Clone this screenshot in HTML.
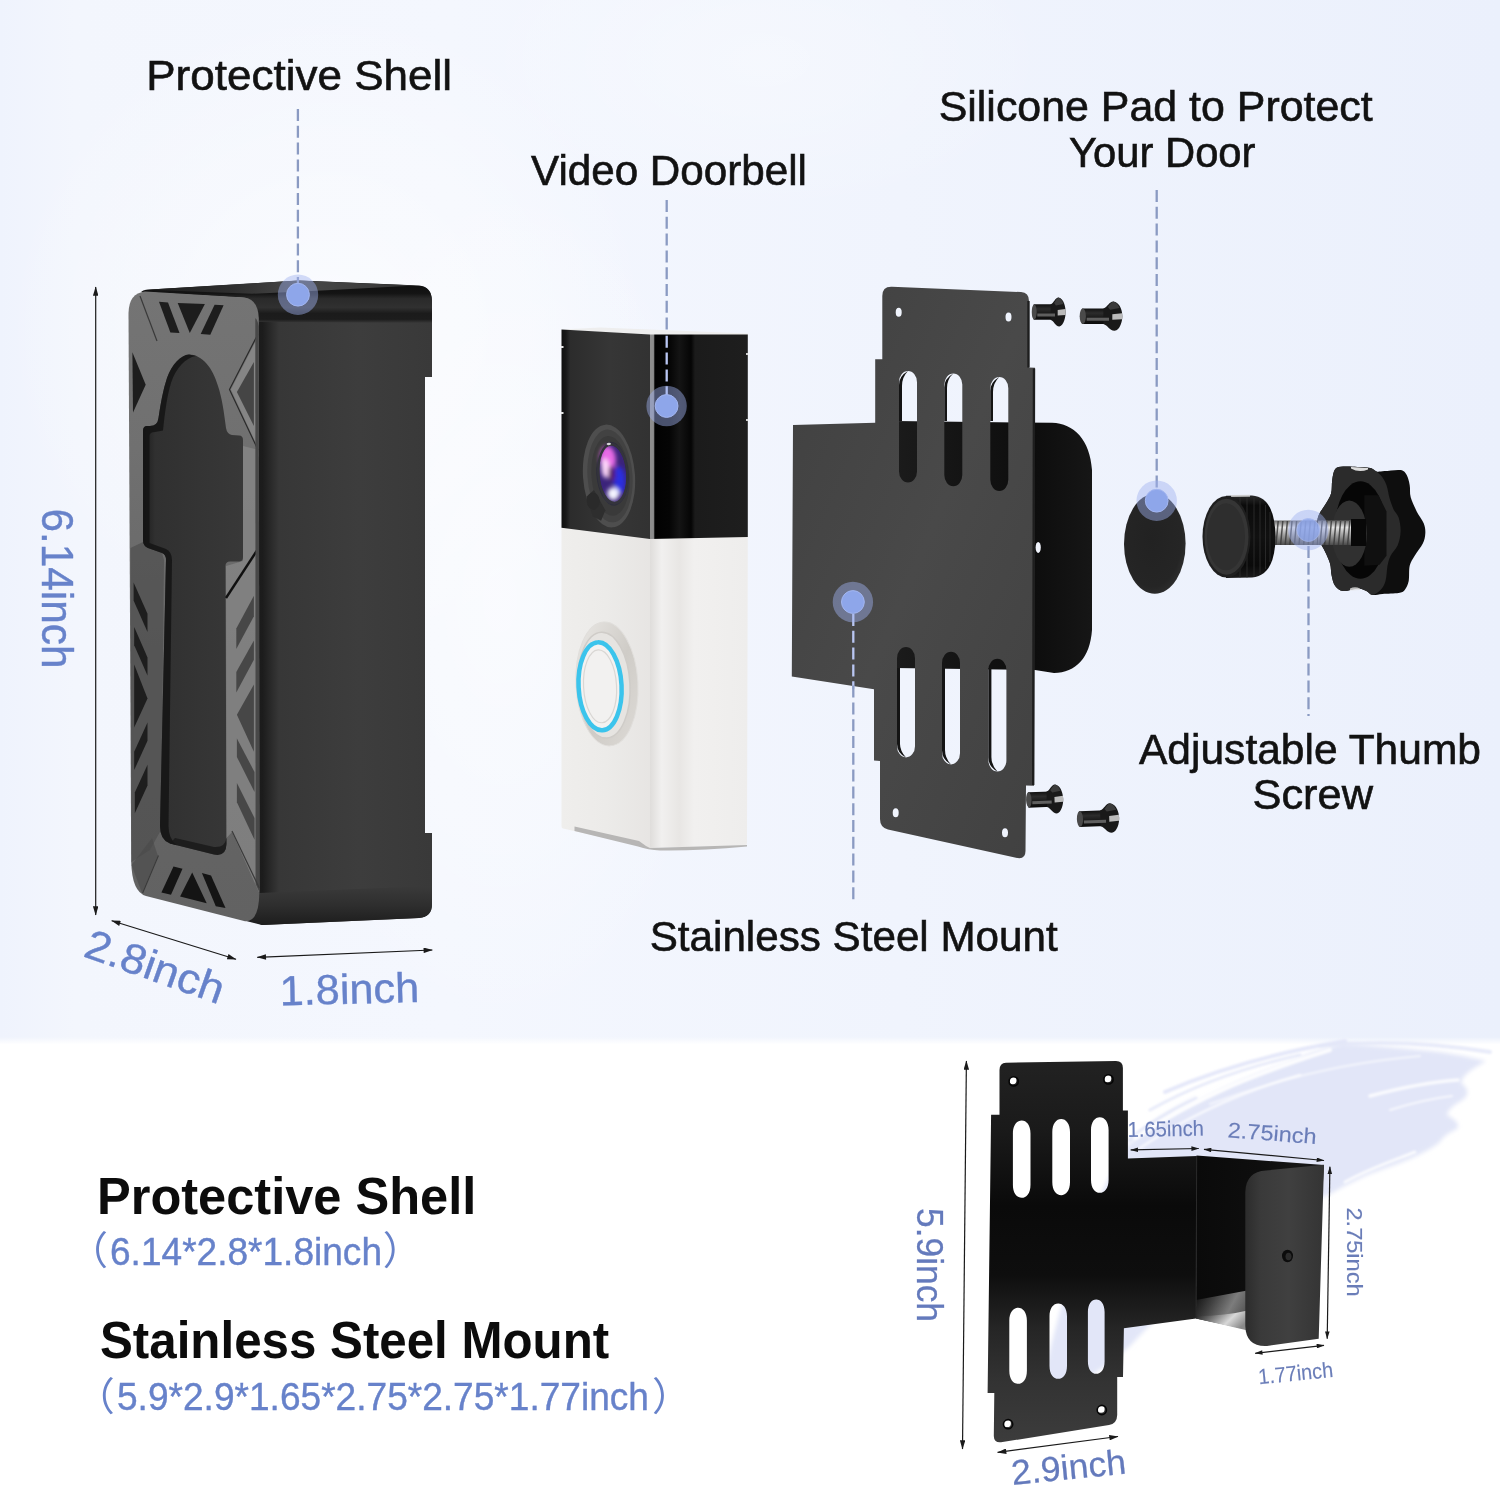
<!DOCTYPE html>
<html lang="en">
<head>
<meta charset="utf-8">
<title>Protective Shell and Stainless Steel Mount</title>
<style>
html,body{margin:0;padding:0;background:#fff;}
body{width:1500px;height:1489px;overflow:hidden;font-family:"Liberation Sans","Noto Sans CJK SC",sans-serif;}
svg{display:block;}
text{opacity:0.999;}
.lbl{font-family:"Liberation Sans",sans-serif;font-size:42px;fill:#121212;stroke:#121212;stroke-width:0.6px;}
.dim{font-family:"Liberation Sans","Noto Sans CJK SC",sans-serif;fill:#6782ca;stroke:#6782ca;stroke-width:0.4px;}
.dims{stroke-width:0.15px;fill:#6a7db8;stroke:#6a7db8;}
.dimb{stroke-width:0.25px;fill:#647abc;stroke:#647abc;}
.par{stroke-width:0;}
.hd{font-family:"Liberation Sans",sans-serif;font-size:52px;font-weight:bold;fill:#0c0c0c;}
.dash{stroke:#8a9ac2;stroke-width:2.3;stroke-dasharray:12 4.8;fill:none;}
.dl{stroke:#b9c6f2;}
.arr{stroke:#1a1a1a;stroke-width:1.2;fill:none;}
</style>
</head>
<body>
<svg width="1500" height="1489" viewBox="0 0 1500 1489">
<defs>
<linearGradient id="bgTop" x1="0" y1="0" x2="1" y2="0">
<stop offset="0" stop-color="#eff3fd"/>
<stop offset="0.05" stop-color="#f3f6fd"/>
<stop offset="0.3" stop-color="#f4f7fe"/>
<stop offset="0.6" stop-color="#f0f4fd"/>
<stop offset="1" stop-color="#ebf0fc"/>
</linearGradient>
<radialGradient id="bgGlow" cx="0.5" cy="0.5" r="0.5">
<stop offset="0" stop-color="#ffffff" stop-opacity="0.6"/>
<stop offset="1" stop-color="#ffffff" stop-opacity="0"/>
</radialGradient>
<linearGradient id="bgFade" x1="0" y1="0" x2="0" y2="1">
<stop offset="0" stop-color="#ffffff" stop-opacity="0"/>
<stop offset="1" stop-color="#ffffff" stop-opacity="1"/>
</linearGradient>
<filter id="blur6" x="-20%" y="-20%" width="140%" height="140%"><feGaussianBlur stdDeviation="6"/></filter>
<filter id="blur2" x="-20%" y="-20%" width="140%" height="140%"><feGaussianBlur stdDeviation="2"/></filter>
<filter id="blur1" x="-20%" y="-20%" width="140%" height="140%"><feGaussianBlur stdDeviation="0.8"/></filter>
<marker id="ahs" viewBox="0 0 10 6" refX="9.5" refY="3" markerWidth="9" markerHeight="4.6" orient="auto-start-reverse" markerUnits="userSpaceOnUse">
<path d="M0 0 L10 3 L0 6 Z" fill="#1a1a1a"/>
</marker>
<marker id="ah" viewBox="0 0 10 6" refX="9.5" refY="3" markerWidth="11" markerHeight="5.5" orient="auto-start-reverse" markerUnits="userSpaceOnUse">
<path d="M0 0 L10 3 L0 6 Z" fill="#1a1a1a"/>
</marker>
</defs>

<!-- ===== BACKGROUND ===== -->
<g id="background">
<rect x="0" y="0" width="1500" height="1489" fill="#ffffff"/>
<rect x="0" y="0" width="1500" height="1044" fill="url(#bgTop)"/>
<ellipse cx="330" cy="330" rx="330" ry="330" fill="url(#bgGlow)"/>
<ellipse cx="500" cy="600" rx="230" ry="440" fill="url(#bgGlow)" opacity="0.9"/>
<ellipse cx="760" cy="60" rx="300" ry="160" fill="url(#bgGlow)" opacity="0.5"/>
<rect x="0" y="1037" width="1500" height="7.5" fill="url(#bgFade)"/>
</g>

<!-- ===== BRUSH ===== -->
<g id="brush">
<g filter="url(#blur2)">
<path d="M1040 1394 C1060 1300 1090 1200 1129 1144 C1160 1120 1185 1108 1207 1097 C1235 1082 1262 1072 1285 1064 C1310 1054 1330 1047 1350 1044 C1380 1046 1400 1048 1420 1050 C1445 1052 1465 1056 1486 1061 C1470 1070 1462 1076 1461 1083 C1470 1090 1468 1094 1464 1099 C1452 1106 1448 1110 1447 1115 C1456 1120 1460 1124 1457 1129 C1446 1134 1442 1138 1440 1142 C1430 1150 1420 1154 1412 1158 C1395 1165 1380 1170 1367 1175 C1352 1182 1342 1187 1332 1193 C1250 1232 1180 1292 1130 1346 C1100 1372 1070 1392 1040 1394 Z" fill="#e2e6f8"/>
<path d="M1290 1062 C1310 1052 1335 1045 1349 1042 C1340 1050 1320 1058 1300 1066 Z" fill="#e2e6f8"/>
</g>
<g fill="none" stroke="#e2e6f8" stroke-linecap="round" filter="url(#blur1)">
<path d="M1165 1092 C1220 1068 1280 1052 1345 1041" stroke-width="4" opacity="0.9"/>
<path d="M1150 1110 C1200 1082 1250 1066 1300 1055" stroke-width="3" opacity="0.8"/>
<path d="M1320 1046 C1380 1040 1440 1044 1490 1052" stroke-width="4" opacity="0.8"/>
<path d="M1130 1140 C1150 1122 1170 1110 1195 1098" stroke-width="5" opacity="0.8"/>
</g>
<g fill="none" stroke="#ffffff" stroke-linecap="round" filter="url(#blur1)">
<path d="M1135 1138 C1200 1095 1260 1072 1330 1050" stroke-width="4" opacity="0.85"/>
<path d="M1140 1148 C1190 1115 1240 1092 1300 1075" stroke-width="2.5" opacity="0.7"/>
<path d="M1210 1104 C1280 1078 1350 1062 1420 1056" stroke-width="2" opacity="0.6"/>
<path d="M1370 1096 C1400 1088 1430 1082 1458 1080" stroke-width="3.5" opacity="0.8"/>
<path d="M1390 1110 C1415 1102 1435 1098 1452 1096" stroke-width="2" opacity="0.7"/>
<path d="M1345 1182 C1370 1168 1395 1160 1415 1152" stroke-width="3" opacity="0.8"/>
<path d="M1130 1132 C1160 1110 1185 1098 1205 1090" stroke-width="5" opacity="0.7"/>
</g>
</g>

<!-- ===== SHELL ===== -->
<g id="shell">
<defs>
<linearGradient id="shSide" x1="0" y1="0" x2="1" y2="0">
<stop offset="0" stop-color="#191919"/>
<stop offset="0.07" stop-color="#1c1c1c"/>
<stop offset="0.16" stop-color="#373737"/>
<stop offset="0.6" stop-color="#3d3d3d"/>
<stop offset="1" stop-color="#393939"/>
</linearGradient>
<linearGradient id="shTop" gradientUnits="userSpaceOnUse" x1="0" y1="286" x2="0" y2="323">
<stop offset="0" stop-color="#101010"/>
<stop offset="0.2" stop-color="#141414"/>
<stop offset="0.34" stop-color="#2a2a2a"/>
<stop offset="0.58" stop-color="#303030"/>
<stop offset="0.74" stop-color="#1b1b1b"/>
<stop offset="0.9" stop-color="#1c1c1c"/>
<stop offset="1" stop-color="#393939"/>
</linearGradient>
<linearGradient id="shTopFace" gradientUnits="userSpaceOnUse" x1="146" y1="0" x2="430" y2="0">
<stop offset="0" stop-color="#1c1c1c"/>
<stop offset="0.3" stop-color="#2e2e2e"/>
<stop offset="0.55" stop-color="#484848"/>
<stop offset="0.8" stop-color="#3c3c3c"/>
<stop offset="1" stop-color="#2a2a2a"/>
</linearGradient>
<linearGradient id="shBot" x1="0" y1="0" x2="0" y2="1">
<stop offset="0" stop-color="#3a3a3a"/>
<stop offset="0.5" stop-color="#2e2e2e"/>
<stop offset="1" stop-color="#1d1d1d"/>
</linearGradient>
<linearGradient id="shFront" x1="0" y1="0" x2="0" y2="1">
<stop offset="0" stop-color="#747474"/>
<stop offset="0.25" stop-color="#707070"/>
<stop offset="0.6" stop-color="#666666"/>
<stop offset="1" stop-color="#626262"/>
</linearGradient>
<linearGradient id="shRecess" x1="0" y1="0" x2="1" y2="0">
<stop offset="0" stop-color="#1c1c1c"/>
<stop offset="0.12" stop-color="#303030"/>
<stop offset="1" stop-color="#383838"/>
</linearGradient>
</defs>
<!-- side face -->
<path d="M250 300 L420 286 Q432 287 432 302 L432 377 L425 377 L425 833 L432 833 L432 904 Q432 917 419 918 L262 925 L250 920 Z" fill="url(#shSide)"/>
<!-- top bevel band -->
<path d="M141 292 Q143 290 146 289.8 L300 280.5 L419 285.5 Q431 286.5 432 300 L432 323 L259 322 L246 298 Z" fill="url(#shTop)"/>
<path d="M146 289.8 L297 280.6 L416 285.4 L322 290.5 L252 293.8 Z" fill="url(#shTopFace)"/>
<!-- bottom bevel band -->
<path d="M259 893 L432 886 L432 904 Q432 917 419 918 L262 925 L246 921 Z" fill="url(#shBot)"/>
<!-- front face -->
<path d="M128.5 313 Q129 293 145 291.5 L244 297.5 Q258 299 258.8 318 L259.3 893 Q259 922 245 921.2 L146 896 Q132 892 131.2 862 Z" fill="url(#shFront)"/>
<!-- left strip darker tint -->
<path d="M130.5 548 L143 542 L162 553 L164 560 L161 830 L150 850 L131.5 862 Z" fill="#4e4e4e" opacity="0.7"/>
<!-- recess -->
<path d="M189 354.5 C181 355 172 364 167 378 C163 390 160.5 404 158.5 418 Q157.5 426 150 426 L146.5 426 Q143 426.5 143 431 L143 540 Q143 546 148 548 L162 553 Q166 554.5 166 560 L160 826 Q160 840 170 843.5 L214 854.5 Q226 857 226.5 844 L225.5 566 Q225.5 561.5 230 561.5 L239 561.5 Q243 561.5 243 557 L243 440 Q243 435.5 239 435.5 L232 435 Q227 434 226 428 C224 412 222 398 218 386 C213 368 202 354.5 189 354.5 Z" fill="url(#shRecess)"/>
<path d="M189 354.5 C181 355 172 364 167 378 C163 390 160.5 404 158.5 418 Q157.5 426 150 426 L146.5 426 Q143 426.5 143 431 L143 540 Q143 546 148 548 L162 553 Q166 554.5 166 560 L160 826 Q160 840 170 843.5 L177 845.3 Q168.5 839 168.5 826 L172 560 Q172 552 166 549 L149.5 543 L149.5 436 Q149.5 432 155 432 L163 430.5 C165 412 167 396 171 383 C176 368 185 358 196 356 Z" fill="#141414" opacity="0.85"/>
<path d="M170 843.5 L214 854.5 Q226 857 226.5 844 L226.4 838 Q225 848 214 847 L175 838 Z" fill="#181818" opacity="0.8"/>
<!-- W cutouts top -->
<g fill="#1d1d1d">
<path d="M159 301.7 L168 302.4 L179.5 332.9 L170.4 332.6 Z"/>
<path d="M177.7 302.9 L204.9 304.1 L189.8 332.9 Z"/>
<path d="M214.6 304.8 L223.6 305.3 L210.3 334.7 L200.7 334.1 Z"/>
<path d="M132.4 352.2 L145.7 384.8 L133 412.6 Z"/>
</g>
<path d="M258.5 336 L231 389.5 L258.5 449 Z" fill="#858585"/>
<path d="M258 334 L229.5 389.5 L258.5 451" stroke="#2a2a2a" stroke-width="1.2" fill="none"/>
<path d="M253.9 361.9 L236.9 392.1 L253.9 426 Z" fill="#454545"/>
<path d="M140 296 L157 341" stroke="#3a3a3a" stroke-width="1.2" fill="none"/>

<path d="M226 566 L243 561 L243 446 L259 450 L259.3 893 L232 832 L226.5 838 Z" fill="#8a8a8a" opacity="0.7"/>
<!-- left chevrons -->
<g fill="#1e1e1e">
<path d="M133.6 582.4 L147.5 613.8 L147.5 632 L133.6 600.6 Z"/>
<path d="M134.2 627.1 L147.5 657.4 L147.5 675.5 L134.2 645.3 Z"/>
<path d="M134.2 664.6 L147.5 698.5 L134.2 727.5 Z"/>
<path d="M147.5 722.6 L134.2 751.7 L134.2 770 L147.5 740.8 Z"/>
<path d="M147.5 764.8 L134.8 792.6 L134.8 813.2 L147.5 785.4 Z"/>
</g>
<!-- right chevrons -->
<g fill="#474747">
<path d="M253.9 595.7 L236.3 628.4 L236.3 648.9 L253.9 616.3 Z"/>
<path d="M253.9 640.4 L236.3 671.9 L236.3 692.4 L253.9 659.8 Z"/>
<path d="M253.9 684.6 L236.9 714.8 L253.9 751.7 Z"/>
<path d="M236.9 738.4 L254.5 772 L254.5 792 L236.9 757 Z"/>
<path d="M236.9 783 L254.5 818 L254.5 839.8 L236.9 802.3 Z"/>
</g>
<path d="M226 598 L258 549" stroke="#101010" stroke-width="2.4" fill="none"/>
<path d="M255.3 318 Q257.5 320 258.8 326 L259.3 892 L255.6 884 Z" fill="#484848"/>
<!-- M cutouts bottom -->
<g fill="#141414">
<path d="M173.5 866.4 L182.5 868.8 L171 894.8 L161.4 892.4 Z"/>
<path d="M192.2 872.4 L206.7 903.3 L180.1 896.6 Z"/>
<path d="M201.9 873 L211 875.4 L225.5 908.1 L215.8 906.3 Z"/>
</g>
<path d="M158.4 855.5 L142.6 893" stroke="#3a3a3a" stroke-width="1.2" fill="none"/>
<path d="M232 831 L259.3 888" stroke="#3a3a3a" stroke-width="1.2" fill="none"/>
<path d="M131.5 865 L142 893 L158 856 L152 838 Z" fill="#4a4a4a" opacity="0.6"/>
</g>


<!-- ===== DOORBELL ===== -->
<g id="doorbell">
<defs>
<linearGradient id="dbFront" x1="0" y1="0" x2="1" y2="0">
<stop offset="0" stop-color="#101010"/>
<stop offset="0.05" stop-color="#181818"/>
<stop offset="0.1" stop-color="#2c2c2c"/>
<stop offset="0.55" stop-color="#363636"/>
<stop offset="1" stop-color="#323232"/>
</linearGradient>
<linearGradient id="dbSide" x1="0" y1="0" x2="1" y2="0">
<stop offset="0" stop-color="#8d8d8d"/>
<stop offset="0.035" stop-color="#8d8d8d"/>
<stop offset="0.05" stop-color="#020202"/>
<stop offset="0.2" stop-color="#050505"/>
<stop offset="0.3" stop-color="#141414"/>
<stop offset="0.42" stop-color="#050505"/>
<stop offset="0.46" stop-color="#1b1b1b"/>
<stop offset="1" stop-color="#1e1e1e"/>
</linearGradient>
<linearGradient id="dbWFront" x1="0" y1="0" x2="1" y2="0">
<stop offset="0" stop-color="#efeeec"/>
<stop offset="0.5" stop-color="#ecebe9"/>
<stop offset="1" stop-color="#e7e5e3"/>
</linearGradient>
<linearGradient id="dbWSide" x1="0" y1="0" x2="1" y2="0">
<stop offset="0" stop-color="#dfdddb"/>
<stop offset="0.12" stop-color="#f1f0ef"/>
<stop offset="0.3" stop-color="#e8e6e4"/>
<stop offset="0.45" stop-color="#f1f0ef"/>
<stop offset="1" stop-color="#eeedec"/>
</linearGradient>
<linearGradient id="dbLens" x1="0.3" y1="0" x2="0.7" y2="1">
<stop offset="0" stop-color="#7a2c86"/>
<stop offset="0.25" stop-color="#d45fd8"/>
<stop offset="0.5" stop-color="#5a2a90"/>
<stop offset="0.72" stop-color="#2b35d8"/>
<stop offset="0.88" stop-color="#c9d0ff"/>
<stop offset="1" stop-color="#2a2a60"/>
</linearGradient>
<linearGradient id="dbRing" x1="0" y1="0" x2="1" y2="1">
<stop offset="0" stop-color="#ebe9e6"/>
<stop offset="0.55" stop-color="#cfccc7"/>
<stop offset="1" stop-color="#dedbd7"/>
</linearGradient>
</defs>
<!-- white body -->
<path d="M561.5 527 L650 538 L650 848 L563 828.5 Q561.5 828 561.5 826 Z" fill="url(#dbWFront)"/>
<path d="M650 538 L747.8 536.5 L747 843 Q747 845.5 744 845.5 L650 848 Z" fill="url(#dbWSide)"/>
<!-- base -->
<path d="M574.5 826.5 L639 841 L646 846 L650 848 L747 845 L747 846.5 Q700 851 660 850.5 Q648 850 638 846.5 L574.5 831 Z" fill="#b7b6b5"/>
<!-- top light strip -->
<path d="M561.5 329.4 L600 327.5 L748 333.6 L747.8 335 L650 335 Z" fill="#eeeeee"/>
<!-- black top -->
<path d="M561.5 329.4 L650 334.4 L650 539 L561.5 527.8 Z" fill="url(#dbFront)"/>
<path d="M650 334.4 L747.8 334.4 L747.8 537 L650 539 Z" fill="url(#dbSide)"/>
<rect x="561" y="346" width="2.5" height="2" fill="#e8e8e8"/>
<rect x="561" y="412" width="2.5" height="2" fill="#e8e8e8"/>
<rect x="746" y="353" width="2" height="2" fill="#d0d0d0"/>
<rect x="746" y="419" width="2" height="2" fill="#d0d0d0"/>
<!-- lens -->
<g transform="rotate(-4 609 476)">
<ellipse cx="609" cy="476" rx="26" ry="51.5" fill="#4e4e4e"/>
<ellipse cx="610" cy="476" rx="22.5" ry="46.5" fill="#424242"/>
<ellipse cx="610.5" cy="476" rx="19" ry="40" fill="#3a3a3a"/>
<path d="M585 495 L593 489 L603 510 L598 520 L590 515 Z" fill="#2e2e2e"/>
<ellipse cx="591.5" cy="500" rx="6.5" ry="8.5" fill="#2a2a2a"/>
<ellipse cx="612.5" cy="474" rx="16" ry="32" fill="#2d2d3a"/>
<ellipse cx="613" cy="474" rx="13.5" ry="28" fill="#3b237a"/>
<g filter="url(#blur2)">
<ellipse cx="609" cy="459" rx="8" ry="13" fill="#e86be6"/>
<ellipse cx="606" cy="468" rx="4" ry="10" fill="#ffd9fb"/>
<ellipse cx="619" cy="481" rx="6" ry="14" fill="#2a2fe0"/>
<ellipse cx="612" cy="474" rx="3.5" ry="8" fill="#5a1f6a"/>
<ellipse cx="612" cy="494" rx="6" ry="6.5" fill="#f4f4ff"/>
</g>
<ellipse cx="613" cy="474" rx="14.5" ry="29.5" fill="none" stroke="#34343c" stroke-width="2.5"/>
<ellipse cx="611" cy="444" rx="2.2" ry="1.2" fill="#e8e8e8" opacity="0.9"/>
</g>
<!-- button -->
<g transform="rotate(-3 606 685)">
<ellipse cx="607" cy="684" rx="31" ry="62" fill="url(#dbRing)" stroke="#e0dedb" stroke-width="1"/>
<ellipse cx="604" cy="685" rx="26" ry="53" fill="#e6e4e1" stroke="#cfccc8" stroke-width="1.5"/>
<ellipse cx="600" cy="686" rx="21.5" ry="44" fill="#f3f2f1" stroke="#3bc4ec" stroke-width="4.5"/>
<ellipse cx="600" cy="686" rx="16.5" ry="36.5" fill="#f2f1f0" stroke="#d9d7d4" stroke-width="1.2"/>
</g>
</g>


<!-- ===== MOUNT ===== -->
<g id="mount">
<defs>
<linearGradient id="mtFace" x1="0" y1="0" x2="1" y2="1">
<stop offset="0" stop-color="#404040"/>
<stop offset="0.5" stop-color="#494949"/>
<stop offset="1" stop-color="#414141"/>
</linearGradient>
<linearGradient id="mtBack" x1="0" y1="0" x2="1" y2="0">
<stop offset="0" stop-color="#1b1b1b"/>
<stop offset="0.7" stop-color="#0d0d0d"/>
<stop offset="1" stop-color="#161616"/>
</linearGradient>
<linearGradient id="scrBody" x1="0" y1="0" x2="0" y2="1">
<stop offset="0" stop-color="#111111"/>
<stop offset="0.3" stop-color="#2c2c2c"/>
<stop offset="0.6" stop-color="#1a1a1a"/>
<stop offset="1" stop-color="#0c0c0c"/>
</linearGradient>
<g id="screwA">
<path d="M2 -7.7 L26 -7.7 L26 7.7 L2 7.7 Q-1.5 0 2 -7.7 Z" fill="url(#scrBody)"/>
<ellipse cx="2.5" cy="0" rx="2.8" ry="7.6" fill="#4a4a4a"/>
<path d="M21 -7.7 C25 -9 26 -14.5 30 -14.5 C36.5 -13.5 38 -4 38 0 C38 5 36 13.5 31 14.5 C26 14 25 9 21 7.7 Z" fill="#191919"/>
<path d="M29 -2 L37.8 -3 C38 0 38 1 37.8 3 L29 3.5 Z" fill="#d8d8d8" opacity="0.85"/>
<path d="M25 -9 C27 -12 28.5 -14 30 -14.5 C32 -14 34 -12 35.5 -8 L27 -6.5 Z" fill="#3f3f3f" opacity="0.9"/>
<path d="M6 1.5 L26 1.5 L26 4.5 L6 4.5 Z" fill="#9a9a9a" opacity="0.55"/>
</g>
</defs>
<!-- back plate -->
<path d="M895 421 L1052 422.8 C1074 423.5 1090 440 1092 470 L1092 630 C1090 658 1076 672.5 1054 673 L1035 670 L895 668 Z" fill="url(#mtBack)"/>
<ellipse cx="1038.2" cy="547.4" rx="2.6" ry="5.5" fill="#f1f4fc"/>
<!-- front plate with slots -->
<path fill-rule="evenodd" fill="url(#mtFace)" d="M882.3 296 Q882.3 286.3 892 286.8 L1021 292 Q1029 292.5 1029 301 L1029 367.6 L1035 367.8 L1034 785.7 L1026 785.5 L1025.5 851 Q1025.5 860 1016 857.8 L888 829.5 Q880 827.5 880 819 L880 761 L874 760.5 L874 689.3 L791.8 676.4 L793 425 L875.2 422.8 L875.2 359.3 L882.3 359.3 Z
M899 382.2 A9 11.2 0 0 1 917 382.2 L917 471.4 A9 11.2 0 0 1 899 471.4 Z
M944.3 384.6 A9 11.2 0 0 1 962.3 384.6 L962.3 475.1 A9 11.2 0 0 1 944.3 475.1 Z
M990.3 388.2 A9 11.2 0 0 1 1008.3 388.2 L1008.3 479.8 A9 11.2 0 0 1 990.3 479.8 Z
M897 658.2 A9 11.2 0 0 1 915 658.2 L915 746.2 A9 11.2 0 0 1 897 746.2 Z
M942 663 A9 11.2 0 0 1 960 663 L960 753.2 A9 11.2 0 0 1 942 753.2 Z
M988.4 670 A9 11.2 0 0 1 1006.4 670 L1006.4 760.4 A9 11.2 0 0 1 988.4 760.4 Z
M898.7 312.3 m-3 0 a3 4.5 0 1 0 6 0 a3 4.5 0 1 0 -6 0 Z
M1008.5 317 m-3 0 a3 4.5 0 1 0 6 0 a3 4.5 0 1 0 -6 0 Z
M895.7 812.7 m-3 0 a3 4.5 0 1 0 6 0 a3 4.5 0 1 0 -6 0 Z
M1005 832.7 m-3 0 a3 4.5 0 1 0 6 0 a3 4.5 0 1 0 -6 0 Z"/>
<!-- slot inner walls -->
<g fill="#141414">
<path d="M899 385 Q899 376 908 371 Q902 377 902 386 L902 421 L899 421 Z"/>
<path d="M944.3 387.4 Q944.3 378.4 953.3 373.4 Q947 379 947 388 L947 421 L944.3 421 Z"/>
<path d="M990.3 391 Q990.3 382 999.3 377 Q993 383 993 392 L993 421 L990.3 421 Z"/>
<path d="M897 668 L900 668 L900 744 Q900 751 906 757.5 Q897 753 897 744 Z"/>
<path d="M942 668 L945 668 L945 750 Q945 758 951 764.5 Q942 759.5 942 750.5 Z"/>
<path d="M988.4 668 L991.4 668 L991.4 757 Q991.4 765 997.4 771.6 Q988.4 766.6 988.4 757.6 Z"/>
</g>
<!-- right edge highlight of plate -->
<path d="M1028.5 301 L1028.5 367.6 M1034 368.5 L1033.2 785" stroke="#1e1e1e" stroke-width="2.4" fill="none"/>
<!-- screws -->
<use href="#screwA" transform="translate(1032 312) scale(0.885 1)"/>
<use href="#screwA" transform="translate(1080 316.2) scale(1.115 1.01)"/>
<use href="#screwA" transform="translate(1026.4 800) rotate(-2) scale(0.97 1)"/>
<use href="#screwA" transform="translate(1077.2 819.2) rotate(-2) scale(1.105 1.02)"/>
</g>


<!-- ===== PAD + THUMB SCREW ===== -->
<g id="thumb">
<defs>
<linearGradient id="thr" x1="0" y1="0" x2="0" y2="1">
<stop offset="0" stop-color="#6a6a6a"/>
<stop offset="0.28" stop-color="#e4e4e4"/>
<stop offset="0.55" stop-color="#a8a8a8"/>
<stop offset="1" stop-color="#4a4a4a"/>
</linearGradient>
<radialGradient id="padG" cx="0.45" cy="0.45" r="0.6">
<stop offset="0" stop-color="#222222"/>
<stop offset="0.8" stop-color="#252525"/>
<stop offset="1" stop-color="#2f2f2f"/>
</radialGradient>
<linearGradient id="knobSide" x1="0" y1="0" x2="0" y2="1">
<stop offset="0" stop-color="#2a2a2a"/>
<stop offset="0.12" stop-color="#0b0b0b"/>
<stop offset="0.5" stop-color="#111111"/>
<stop offset="0.85" stop-color="#0a0a0a"/>
<stop offset="1" stop-color="#1c1c1c"/>
</linearGradient>
</defs>
<!-- silicone pad -->
<ellipse cx="1154.8" cy="543.8" rx="30.8" ry="50" fill="url(#padG)"/>
<!-- thread -->
<rect x="1270" y="520.5" width="84" height="24.5" fill="url(#thr)"/>
<g fill="none" stroke="#3a3a3a" stroke-width="1.5" opacity="0.85"><path d="M1278.2 521 L1276 545"/><path d="M1282.8 521 L1280.6 545"/><path d="M1287.4 521 L1285.2 545"/><path d="M1292 521 L1289.8 545"/><path d="M1296.6 521 L1294.4 545"/><path d="M1301.2 521 L1299 545"/><path d="M1305.8 521 L1303.6 545"/><path d="M1310.4 521 L1308.2 545"/><path d="M1315 521 L1312.8 545"/><path d="M1319.6 521 L1317.4 545"/><path d="M1324.2 521 L1322 545"/><path d="M1328.8 521 L1326.6 545"/><path d="M1333.4 521 L1331.2 545"/><path d="M1338 521 L1335.8 545"/><path d="M1342.6 521 L1340.4 545"/><path d="M1347.2 521 L1345 545"/><path d="M1351.8 521 L1349.6 545"/></g>
<!-- round knob -->
<path d="M1226 495.8 L1252 495.5 Q1275 497 1275.5 537 Q1275 576 1252 577.5 L1226 578 Z" fill="url(#knobSide)"/>
<g fill="none" stroke="#2c2c2c" stroke-width="1" opacity="0.9">
<path d="M1240 496.5 L1240 577.5"/><path d="M1247 496.5 L1247 577.5"/><path d="M1254 497.5 L1254 576.5"/><path d="M1260 500.5 L1260 573.5"/><path d="M1265.5 505 L1265.5 569"/><path d="M1270 512 L1270 562"/>
</g>
<path d="M1231 495 L1250 494.8 L1250 496.8 L1231 497 Z" fill="#d5d5d5" opacity="0.85"/>
<ellipse cx="1226.5" cy="536.7" rx="24" ry="40.8" fill="#1f1f1f"/>
<ellipse cx="1226.5" cy="536.7" rx="22" ry="38" fill="#353535"/>
<ellipse cx="1226" cy="536.7" rx="19" ry="33.5" fill="#2e2e2e"/>
<!-- star knob -->
<path d="M1335.2 469.1 C1337 466.8 1339.5 467 1343.2 466.6 C1346.9 466.2 1352.8 466.6 1357.3 466.9 C1361.9 467.1 1367.2 467.3 1370.4 468.1 C1373.6 468.9 1374.1 471.1 1376.5 471.6 C1378.8 472.1 1380.5 471.4 1384.5 471.1 C1388.5 470.9 1396.9 469.4 1400.6 470.1 C1404.3 470.8 1405.2 472.6 1406.7 475.1 C1408.2 477.7 1409 481.5 1409.7 485.2 C1410.4 488.9 1409.5 492.9 1410.7 497.3 C1411.9 501.7 1414.6 507 1416.7 511.4 C1418.9 515.8 1422.4 519.8 1423.8 523.5 C1425.2 527.2 1425.5 530.2 1425.3 533.5 C1425.1 536.9 1424.6 539.9 1422.8 543.6 C1421 547.3 1416.9 552 1414.7 555.7 C1412.6 559.4 1410.7 561.6 1409.7 565.8 C1408.7 570 1409.5 576.9 1408.7 580.9 C1407.9 584.9 1406.3 587.9 1404.7 589.9 C1403 592 1402.3 592.3 1398.6 593 C1394.9 593.6 1386.9 593.6 1382.5 594 C1378.1 594.3 1375.1 595.5 1372.4 595 C1369.8 594.5 1368.7 592 1366.4 591 C1364 589.9 1362.2 588.4 1358.3 588.4 C1354.5 588.4 1347.1 591.4 1343.2 591 C1339.4 590.5 1337.1 588.4 1335.2 585.9 C1333.2 583.4 1332.5 579.5 1331.7 575.8 C1330.8 572.2 1331.2 567.8 1330.1 563.8 C1329.1 559.7 1326.8 555.4 1325.1 551.7 C1323.4 548 1321.3 546 1320.1 541.6 C1318.8 537.2 1317.8 529.9 1317.6 525.5 C1317.3 521.1 1317.1 519.1 1318.6 515.4 C1320 511.7 1324 507 1326.1 503.3 C1328.2 499.6 1330.1 497.1 1331.1 493.3 C1332.2 489.4 1331.5 484.2 1332.2 480.2 C1332.8 476.1 1333.3 471.4 1335.2 469.1 Z" fill="#0e0e0e"/>
<path d="M1335.2 469.1 C1337 466.8 1339.5 467 1343.2 466.6 C1346.9 466.2 1352.8 466.6 1357.3 466.9 C1361.9 467.1 1366.6 466.7 1370.4 468.1 C1374.3 469.5 1377.8 472.3 1380.5 475.1 C1383.2 478 1385 481.4 1386.5 485.2 C1388 489.1 1388.4 494.3 1389.6 498.3 C1390.7 502.3 1392.1 506.2 1393.6 509.4 C1395.1 512.6 1397.4 513.7 1398.6 517.4 C1399.8 521.1 1400.8 526.8 1400.6 531.5 C1400.5 536.2 1399.3 541.6 1397.6 545.6 C1395.9 549.7 1392.2 552.3 1390.6 555.7 C1388.9 559.1 1388.4 561.6 1387.5 565.8 C1386.7 570 1386.7 576.9 1385.5 580.9 C1384.4 584.9 1382.7 587.6 1380.5 589.9 C1378.3 592.3 1374.8 594.8 1372.4 595 C1370.1 595.1 1368.7 592 1366.4 591 C1364 589.9 1362.2 588.4 1358.3 588.4 C1354.5 588.4 1347.1 591.4 1343.2 591 C1339.4 590.5 1337.1 588.4 1335.2 585.9 C1333.2 583.4 1332.5 579.5 1331.7 575.8 C1330.8 572.2 1331.2 567.8 1330.1 563.8 C1329.1 559.7 1326.8 555.4 1325.1 551.7 C1323.4 548 1321.3 546 1320.1 541.6 C1318.8 537.2 1317.8 529.9 1317.6 525.5 C1317.3 521.1 1317.1 519.1 1318.6 515.4 C1320 511.7 1324 507 1326.1 503.3 C1328.2 499.6 1330.1 497.1 1331.1 493.3 C1332.2 489.4 1331.5 484.2 1332.2 480.2 C1332.8 476.1 1333.3 471.4 1335.2 469.1 Z" fill="#2b2b2b"/>
<path d="M1351 468.5 Q1359 473 1368 469.5 L1368 468 L1351 467 Z" fill="#f0f0f0" opacity="0.9"/>
<path d="M1350 588.5 Q1355 586 1360 588.5 L1360 590 L1350 590.5 Z" fill="#e0e0e0" opacity="0.8"/>
<ellipse cx="1360.4" cy="530" rx="25.7" ry="48.8" fill="#060606"/>
<path d="M1364.4 495.3 L1378.5 495.3 L1386.5 511.4 L1386.5 555.7 L1379.5 564.8 L1364.4 565.8 Z" fill="#101010"/>
<ellipse cx="1349.3" cy="533.6" rx="17.6" ry="33.2" fill="#303030"/>
<rect x="1318" y="520.5" width="35" height="24.5" fill="url(#thr)"/>
<g fill="none" stroke="#3a3a3a" stroke-width="1.5" opacity="0.85"><path d="M1322.2 521 L1320 545"/><path d="M1326.8 521 L1324.6 545"/><path d="M1331.4 521 L1329.2 545"/><path d="M1336 521 L1333.8 545"/><path d="M1340.6 521 L1338.4 545"/><path d="M1345.2 521 L1343 545"/><path d="M1349.8 521 L1347.6 545"/></g>
<path d="M1351 519 L1366 519 L1366 546 L1351 546 Z" fill="#080808"/>
</g>

<!-- ===== MOUNT 2 (bottom) ===== -->
<g id="mount2">
<defs>
<linearGradient id="m2Face" x1="0" y1="0" x2="0" y2="1">
<stop offset="0" stop-color="#222222"/>
<stop offset="0.18" stop-color="#1a1a1a"/>
<stop offset="0.38" stop-color="#0a0a0a"/>
<stop offset="0.56" stop-color="#0e0e0e"/>
<stop offset="0.7" stop-color="#252525"/>
<stop offset="0.84" stop-color="#333333"/>
<stop offset="1" stop-color="#3c3c3c"/>
</linearGradient>
<linearGradient id="m2Back" x1="0" y1="0" x2="1" y2="0">
<stop offset="0" stop-color="#0a0a0a"/>
<stop offset="0.5" stop-color="#0e0e0e"/>
<stop offset="1" stop-color="#1a1a1a"/>
</linearGradient>
<linearGradient id="m2Floor" x1="0" y1="0" x2="1" y2="0.4">
<stop offset="0" stop-color="#0c0c0c"/>
<stop offset="0.35" stop-color="#6a6a6a"/>
<stop offset="0.7" stop-color="#d8d8d8"/>
<stop offset="1" stop-color="#8a8a8a"/>
</linearGradient>
<linearGradient id="m2End" x1="0" y1="0" x2="1" y2="0">
<stop offset="0" stop-color="#2c2c2c"/>
<stop offset="0.2" stop-color="#3a3a3a"/>
<stop offset="0.55" stop-color="#404040"/>
<stop offset="1" stop-color="#343434"/>
</linearGradient>
</defs>
<!-- back wall -->
<path d="M1196.5 1155.5 L1324 1165 L1322 1200 L1250 1330 L1196 1318.6 Z" fill="url(#m2Back)"/>
<path d="M1196 1300 L1250 1290 L1250 1330 L1196 1318.6 Z" fill="url(#m2Floor)" opacity="0.55"/>
<path d="M1196 1318.6 L1250 1331 L1250 1310 Q1225 1316 1196 1316 Z" fill="url(#m2Floor)"/>
<!-- end plate -->
<path d="M1245.3 1192 Q1246 1171.5 1266 1170.5 L1324 1164.8 L1318.7 1338.7 L1267 1346 Q1246 1347 1245.3 1326 Z" fill="url(#m2End)"/>
<ellipse cx="1287.5" cy="1256" rx="5.5" ry="6.2" fill="#0c0c0c"/>
<ellipse cx="1288.5" cy="1256.5" rx="3" ry="3.8" fill="#2c2c2c"/>
<!-- plate + arm -->
<path fill-rule="evenodd" fill="url(#m2Face)" d="M999.5 1070 Q999.5 1063 1006 1062.7 L1116 1061 Q1122.9 1061 1122.9 1068 L1122.9 1110.5 L1127.9 1110.5 L1127.9 1158.4 L1197 1155.9 L1196 1318.6 L1123.9 1328.2 L1123 1377 L1117.2 1377 L1117.2 1415 Q1117 1423.8 1109 1425 L1001 1442.3 Q994 1443 993.8 1436 L994.3 1393 L987.6 1393 L991.1 1114.7 L999.5 1114.7 Z M1012.9 1133.7 C1012.9 1125.2 1016.9 1120.6 1021.7 1120.6 C1026.5 1120.6 1030.5 1125.2 1030.5 1133.7 L1030.5 1184.7 C1030.5 1193.2 1026.5 1197.8 1021.7 1197.8 C1016.9 1197.8 1012.9 1193.2 1012.9 1184.7 Z M1052.3 1132.1 C1052.3 1123.5 1056.3 1118.9 1061.2 1118.9 C1066 1118.9 1070 1123.5 1070 1132.1 L1070 1182.1 C1070 1190.7 1066 1195.3 1061.2 1195.3 C1056.3 1195.3 1052.3 1190.7 1052.3 1182.1 Z M1091 1130.3 C1091 1121.8 1095 1117.2 1099.8 1117.2 C1104.6 1117.2 1108.6 1121.8 1108.6 1130.3 L1108.6 1179.7 C1108.6 1188.2 1104.6 1192.8 1099.8 1192.8 C1095 1192.8 1091 1188.2 1091 1179.7 Z M1009.3 1320.8 C1009.3 1312.3 1013.3 1307.7 1018.1 1307.7 C1022.9 1307.7 1026.9 1312.3 1026.9 1320.8 L1026.9 1370.7 C1026.9 1379.2 1022.9 1383.8 1018.1 1383.8 C1013.3 1383.8 1009.3 1379.2 1009.3 1370.7 Z M1049.5 1316.6 C1049.5 1308 1053.4 1303.5 1058.2 1303.5 C1063.1 1303.5 1067 1308 1067 1316.6 L1067 1365.7 C1067 1374.3 1063.1 1378.8 1058.2 1378.8 C1053.4 1378.8 1049.5 1374.3 1049.5 1365.7 Z M1087.9 1312 C1087.9 1303.7 1091.7 1299.4 1096.2 1299.4 C1100.8 1299.4 1104.6 1303.7 1104.6 1312 L1104.6 1361.2 C1104.6 1369.5 1100.8 1373.8 1096.2 1373.8 C1091.7 1373.8 1087.9 1369.5 1087.9 1361.2 Z M1009.3 1080.6 a3.6 3.6 0 1 0 7.2 0 a3.6 3.6 0 1 0 -7.2 0 Z M1104.1 1078.6 a3.6 3.6 0 1 0 7.2 0 a3.6 3.6 0 1 0 -7.2 0 Z M1003.7 1423.4 a3.6 3.6 0 1 0 7.2 0 a3.6 3.6 0 1 0 -7.2 0 Z M1097.4 1409.2 a3.6 3.6 0 1 0 7.2 0 a3.6 3.6 0 1 0 -7.2 0 Z"/>
<path d="M1196.7 1156 L1196 1318" stroke="#2a2a2a" stroke-width="1" fill="none"/>
<g fill="none" stroke="#050505" stroke-width="1.6">
<circle cx="1013.7" cy="1081.4" r="4.6"/><circle cx="1108.5" cy="1079.4" r="4.6"/><circle cx="1008.1" cy="1424.2" r="4.6"/><circle cx="1101.8" cy="1410" r="4.6"/>
</g>
</g>

<!-- ===== CALLOUTS ===== -->
<g id="callouts">
<path class="dash" d="M297.9 109 L297.9 283"/>
<path class="dash" d="M666.7 200 L666.7 333"/>
<path class="dash dl" d="M666.7 335.8 L666.7 400"/>
<path class="dash" d="M1156.7 190 L1156.7 490"/>
<path class="dash dl" d="M853.3 614 L853.3 689"/>
<path class="dash" d="M853.3 685.6 L853.3 903"/>
<path class="dash" d="M1308.5 546 L1308.5 716"/>
<circle cx="298" cy="294.7" r="20.2" fill="#9fb2f0" opacity="0.45"/>
<circle cx="298" cy="294.7" r="11.4" fill="#8ea6ea" stroke="#a3b6f0" stroke-width="1" opacity="1"/>
<circle cx="666.6" cy="406" r="20.2" fill="#9fb2f0" opacity="0.45"/>
<circle cx="666.6" cy="406" r="11.4" fill="#8ea6ea" stroke="#a3b6f0" stroke-width="1" opacity="1"/>
<circle cx="852.9" cy="602" r="20.2" fill="#9fb2f0" opacity="0.45"/>
<circle cx="852.9" cy="602" r="11.4" fill="#8ea6ea" stroke="#a3b6f0" stroke-width="1" opacity="1"/>
<circle cx="1156.7" cy="500.7" r="20.2" fill="#9fb2f0" opacity="0.45"/>
<circle cx="1156.7" cy="500.7" r="11.4" fill="#8ea6ea" stroke="#a3b6f0" stroke-width="1" opacity="1"/>
<circle cx="1308.3" cy="530" r="20.2" fill="#9fb2f0" opacity="0.45"/>
<circle cx="1308.3" cy="530" r="11.4" fill="#8ea6ea" stroke="#a3b6f0" stroke-width="1" opacity="0.8"/>
<path class="arr" marker-start="url(#ah)" marker-end="url(#ah)" d="M95.7 287 L95.7 915"/>
<path class="arr" marker-start="url(#ah)" marker-end="url(#ah)" d="M111.7 920.7 L236 959.3"/>
<path class="arr" marker-start="url(#ah)" marker-end="url(#ah)" d="M257.3 957.3 L432.3 950"/>
<path class="arr" marker-start="url(#ah)" marker-end="url(#ah)" d="M966.4 1061 L962.5 1449"/>
<path class="arr" marker-start="url(#ah)" marker-end="url(#ah)" d="M997.6 1452.4 L1118 1436.5"/>
<path class="arr" marker-start="url(#ahs)" marker-end="url(#ahs)" d="M1130.7 1149.9 L1198.7 1148.5"/>
<path class="arr" marker-start="url(#ahs)" marker-end="url(#ahs)" d="M1204 1149.3 L1324 1160.5"/>
<path class="arr" marker-start="url(#ahs)" marker-end="url(#ahs)" d="M1329.9 1166.7 L1327.2 1338.7"/>
<path class="arr" marker-start="url(#ahs)" marker-end="url(#ahs)" d="M1255.2 1353.3 L1324 1345.3"/>
</g>

<!-- ===== TEXT ===== -->
<g id="labels">
<text class="lbl" x="146.2" y="90" textLength="305.9" lengthAdjust="spacingAndGlyphs">Protective Shell</text>
<text class="lbl" x="531" y="184.5" textLength="276" lengthAdjust="spacingAndGlyphs">Video Doorbell</text>
<text class="lbl" x="938.7" y="121" textLength="434" lengthAdjust="spacingAndGlyphs">Silicone Pad to Protect</text>
<text class="lbl" x="1069" y="167" textLength="186.5" lengthAdjust="spacingAndGlyphs">Your Door</text>
<text class="lbl" x="1139" y="763.5" textLength="342" lengthAdjust="spacingAndGlyphs">Adjustable Thumb</text>
<text class="lbl" x="1252.5" y="808.5" textLength="120.5" lengthAdjust="spacingAndGlyphs">Screw</text>
<text class="lbl" x="649.7" y="950.7" textLength="408" lengthAdjust="spacingAndGlyphs">Stainless Steel Mount</text>
</g>

<g id="headings">
<text class="hd" x="97" y="1213.5" textLength="379.3" lengthAdjust="spacingAndGlyphs">Protective Shell</text>
<text class="dim par" font-size="39" x="69" y="1264">（</text>
<text class="dim" font-size="39" x="110" y="1264.7" textLength="272" lengthAdjust="spacingAndGlyphs">6.14*2.8*1.8inch</text>
<text class="dim par" font-size="39" x="382.7" y="1264">）</text>
<text class="hd" x="100" y="1357.5" textLength="509.2" lengthAdjust="spacingAndGlyphs">Stainless Steel Mount</text>
<text class="dim par" font-size="39" x="75.7" y="1409.5">（</text>
<text class="dim" font-size="39" x="117" y="1410" textLength="532" lengthAdjust="spacingAndGlyphs">5.9*2.9*1.65*2.75*2.75*1.77inch</text>
<text class="dim par" font-size="39" x="652" y="1409.5">）</text>
</g>

<g id="dimtext">
<text class="dim" font-size="43.5" transform="translate(42 508.5) rotate(90)" textLength="160" lengthAdjust="spacingAndGlyphs">6.14inch</text>
<text class="dim" font-size="42" transform="translate(82 956) rotate(19.5)" textLength="145" lengthAdjust="spacingAndGlyphs">2.8inch</text>
<text class="dim" font-size="42" transform="translate(280 1005.5) rotate(-1.5)" textLength="139.6" lengthAdjust="spacingAndGlyphs">1.8inch</text>
<text class="dim dimb" font-size="36" transform="translate(917 1208) rotate(90)" textLength="114" lengthAdjust="spacingAndGlyphs">5.9inch</text>
<text class="dim dimb" font-size="35" transform="translate(1012.5 1485) rotate(-5.7)" textLength="115" lengthAdjust="spacingAndGlyphs">2.9inch</text>
<text class="dim dims" font-size="21.5" transform="translate(1127.7 1137) rotate(-1)" textLength="76.4" lengthAdjust="spacingAndGlyphs">1.65inch</text>
<text class="dim dims" font-size="21.5" transform="translate(1227.3 1137.3) rotate(4.4)" textLength="89" lengthAdjust="spacingAndGlyphs">2.75inch</text>
<text class="dim dims" font-size="21.5" transform="translate(1346.5 1207.5) rotate(90)" textLength="89" lengthAdjust="spacingAndGlyphs">2.75inch</text>
<text class="dim dims" font-size="21.5" transform="translate(1259 1384.3) rotate(-5.7)" textLength="75" lengthAdjust="spacingAndGlyphs">1.77inch</text>
</g>
</svg>
</body>
</html>
